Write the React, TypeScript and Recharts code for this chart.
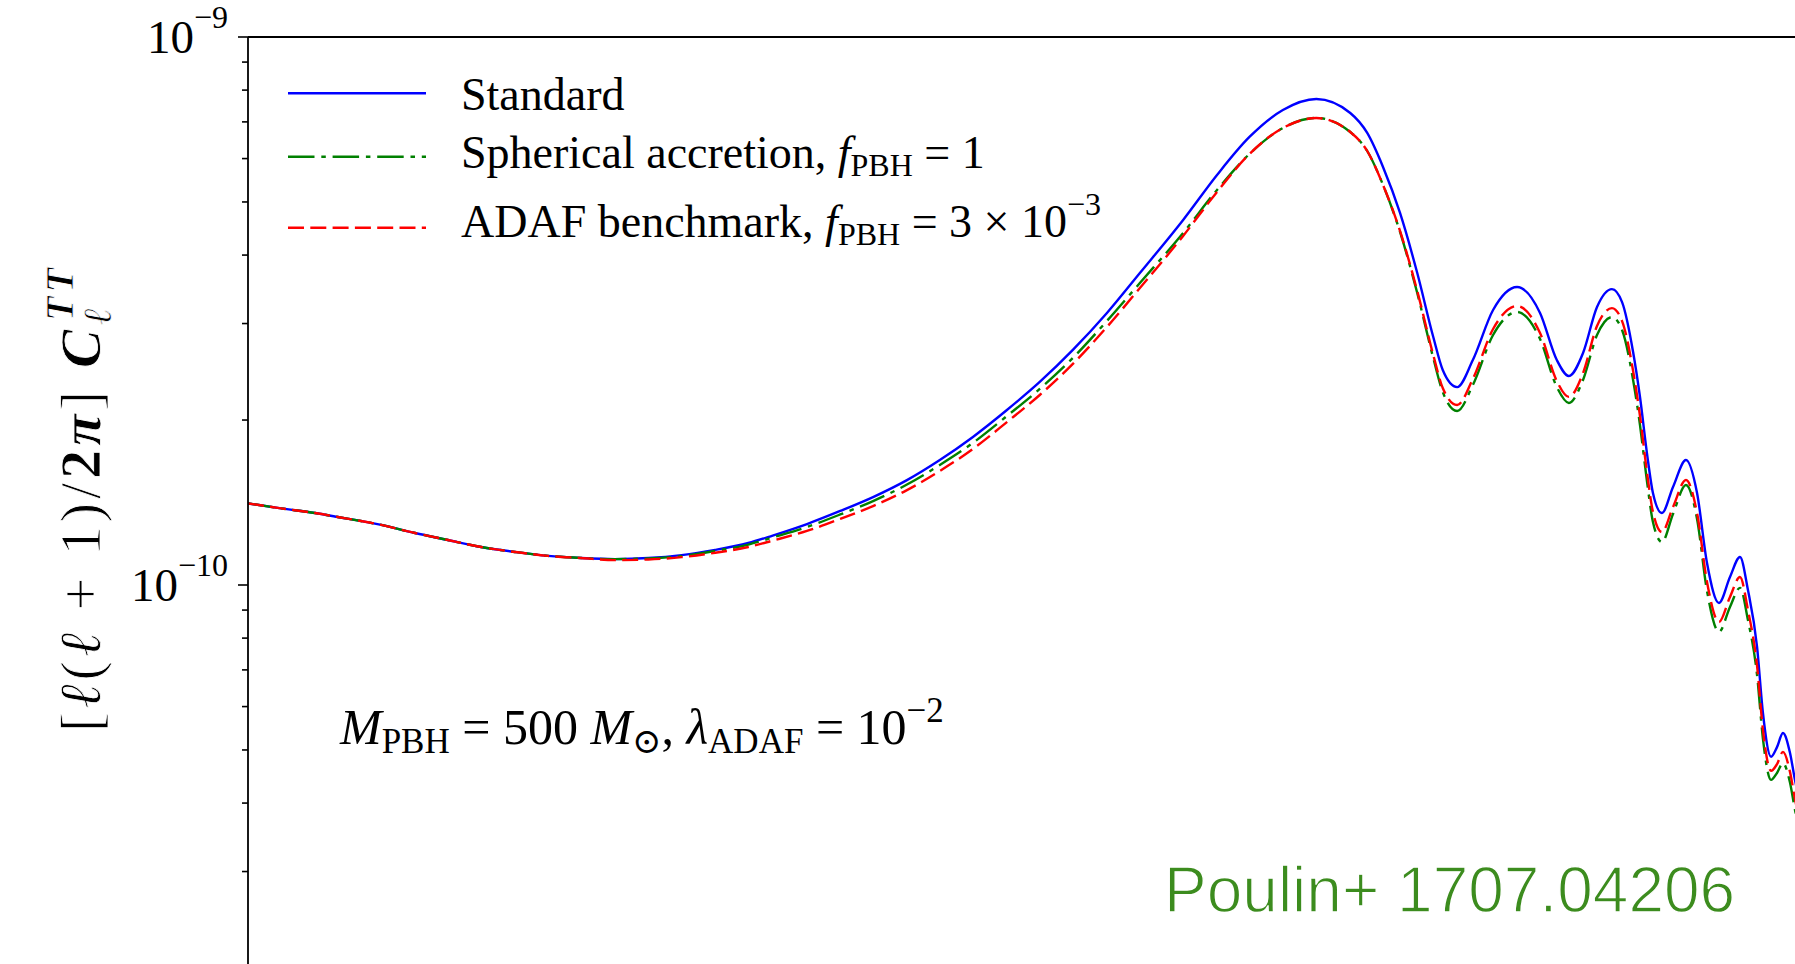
import React from 'react';
import { LineChart, Line, XAxis, YAxis, ReferenceLine, Customized } from 'recharts';

// multipole ell
const ELL = [
  2, 2.31, 2.68, 2.96, 3.58, 4.15, 4.79, 5.54, 6.42, 7.42,
  8.57, 9.94, 11.5, 13.3, 15.4, 17.8, 19.8, 23.0, 26.6, 30.7,
  35.6, 41.1, 47.5, 55.1, 63.6, 73.5, 85.3, 98.5, 119, 138,
  159, 184, 213, 247, 266, 285, 307, 331, 355, 370,
  394, 422, 461, 512, 566, 609, 642, 683, 726, 775,
  810, 850, 876, 903, 927, 964, 1012, 1071, 1124, 1174,
  1237, 1298, 1356, 1404, 1461, 1499, 1553, 1594, 1636, 1687,
  1724, 1801,
];

// [l(l+1)/2pi] C_l^TT, in units of 1e-10
const STANDARD = [
  1.409, 1.380, 1.353, 1.331, 1.287, 1.244, 1.208, 1.173, 1.149, 1.130,
  1.120, 1.115, 1.120, 1.134, 1.159, 1.193, 1.231, 1.292, 1.365, 1.447,
  1.554, 1.691, 1.863, 2.086, 2.347, 2.685, 3.136, 3.709, 4.636, 5.601,
  6.570, 7.358, 7.706, 7.265, 6.681, 5.793, 4.774, 3.709, 2.835, 2.468,
  2.297, 2.574, 3.176, 3.498, 3.136, 2.574, 2.407, 2.651, 3.216, 3.467,
  3.283, 2.662, 2.203, 1.741, 1.472, 1.353, 1.510, 1.691, 1.472, 1.097,
  0.927, 1.034, 1.125, 0.979, 0.771, 0.584, 0.486, 0.506, 0.537, 0.494,
  0.441, 0.373,
];

const SPHERICAL = [
  1.409, 1.380, 1.353, 1.331, 1.287, 1.244, 1.208, 1.173, 1.149, 1.130,
  1.120, 1.115, 1.118, 1.129, 1.154, 1.185, 1.221, 1.276, 1.345, 1.423,
  1.525, 1.656, 1.817, 2.034, 2.279, 2.596, 3.033, 3.557, 4.390, 5.259,
  6.117, 6.822, 7.115, 6.708, 6.194, 5.371, 4.408, 3.410, 2.595, 2.250,
  2.077, 2.317, 2.859, 3.149, 2.811, 2.298, 2.149, 2.367, 2.859, 3.082,
  2.919, 2.367, 1.958, 1.548, 1.303, 1.198, 1.348, 1.522, 1.320, 0.975,
  0.821, 0.912, 0.988, 0.863, 0.685, 0.524, 0.441, 0.454, 0.473, 0.436,
  0.389, 0.329,
];

const ADAF = [
  1.409, 1.380, 1.353, 1.331, 1.287, 1.244, 1.208, 1.173, 1.149, 1.130,
  1.120, 1.110, 1.113, 1.124, 1.145, 1.173, 1.205, 1.255, 1.320, 1.393,
  1.490, 1.615, 1.771, 1.983, 2.222, 2.532, 2.957, 3.482, 4.335, 5.215,
  6.117, 6.822, 7.115, 6.708, 6.194, 5.371, 4.426, 3.439, 2.628, 2.288,
  2.130, 2.377, 2.932, 3.230, 2.883, 2.357, 2.204, 2.437, 2.969, 3.201,
  3.031, 2.458, 2.034, 1.607, 1.359, 1.249, 1.388, 1.555, 1.353, 1.013,
  0.856, 0.951, 1.034, 0.900, 0.712, 0.544, 0.458, 0.471, 0.496, 0.456,
  0.407, 0.344,
];

const UNIT = 1e-10;

const Y_MAJOR_TICKS = [1e-9, 1e-10];
const Y_MAJOR_EXPONENTS = ['\u22129', '\u221210'];
const Y_MINOR_TICKS = [
  9e-10, 8e-10, 7e-10, 6e-10, 5e-10, 4e-10, 3e-10, 2e-10,
  9e-11, 8e-11, 7e-11, 6e-11, 5e-11, 4e-11, 3e-11, 2e-11,
];
const X_DOMAIN = [2, 2500];
const Y_DOMAIN = [1e-11, 1e-9];

const data = ELL.map((l, i) => ({
  l,
  standard: STANDARD[i] * UNIT,
  spherical: SPHERICAL[i] * UNIT,
  adaf: ADAF[i] * UNIT,
}));

const W = 1900;
const H = 1153;
const M = { top: 37, right: 20, bottom: 20, left: 148 };
const YW = 100;
const AXIS_X = M.left + YW;

const BLUE = '#0000ff';
const GREEN = '#008000';
const RED = '#ff0000';
const GREEN_DASH = '26.5 6.8 4.5 6.8';
const RED_DASH = '16 6.3';
const LW = 2.4;
const SERIF = "'Liberation Serif', 'DejaVu Serif', serif";
const SANS = "'Liberation Sans', Arial, sans-serif";

function YTick(props: any) {
  const { y, payload } = props;
  const v = payload.value;
  const idx = Y_MAJOR_TICKS.findIndex((t) => Math.abs(v - t) / t < 1e-6);
  const major = idx >= 0;
  const len = major ? 10 : 6;
  return (
    <g>
      <line x1={AXIS_X - len} x2={AXIS_X} y1={y} y2={y} stroke="#000" strokeWidth={1.6} />
      {major && (
        <text x={AXIS_X - 20} y={y + 16} textAnchor="end" fontFamily={SERIF} fontSize={47} fill="#000">
          10
          <tspan fontSize={32} dy={-25}>{Y_MAJOR_EXPONENTS[idx]}</tspan>
        </text>
      )}
    </g>
  );
}

const SUB = 32;

function Overlay() {
  const legendRows = [
    { y: 93.3, base: 110, color: BLUE, dash: undefined as string | undefined },
    { y: 156.7, base: 168, color: GREEN, dash: GREEN_DASH },
    { y: 227.7, base: 237, color: RED, dash: RED_DASH },
  ];
  return (
    <g style={{ whiteSpace: 'pre' }}>
      {legendRows.map((r, i) => (
        <line key={i} x1={288} x2={426} y1={r.y} y2={r.y} stroke={r.color} strokeWidth={LW} strokeDasharray={r.dash} />
      ))}
      <text x={461} y={legendRows[0].base} fontFamily={SERIF} fontSize={46} fill="#000">Standard</text>
      <text x={461} y={legendRows[1].base} fontFamily={SERIF} fontSize={46} fill="#000">
        {'Spherical accretion, '}
        <tspan fontStyle="italic">f</tspan>
        <tspan fontSize={SUB} dy={8}>PBH</tspan>
        <tspan dy={-8}>{' = 1'}</tspan>
      </text>
      <text x={461} y={legendRows[2].base} fontFamily={SERIF} fontSize={46} fill="#000">
        {'ADAF benchmark, '}
        <tspan fontStyle="italic">f</tspan>
        <tspan fontSize={SUB} dy={8}>PBH</tspan>
        <tspan dy={-8}>{' = 3 \u00d7 10'}</tspan>
        <tspan fontSize={SUB} dy={-22}>{'\u22123'}</tspan>
      </text>

      <text x={340} y={744} fontFamily={SERIF} fontSize={50} fill="#000">
        <tspan fontStyle="italic">M</tspan>
        <tspan fontSize={35} dy={9}>PBH</tspan>
        <tspan dy={-9}>{' = 500 '}</tspan>
        <tspan fontStyle="italic">M</tspan>
        <tspan fontSize={35} dy={9}>{'\u2299'}</tspan>
        <tspan dy={-9}>{', '}</tspan>
        <tspan fontStyle="italic">{'\u03bb'}</tspan>
        <tspan fontSize={35} dy={9}>ADAF</tspan>
        <tspan dy={-9}>{' = 10'}</tspan>
        <tspan fontSize={35} dy={-22}>{'\u22122'}</tspan>
      </text>

      <text
        x={100}
        y={498}
        transform="rotate(-90 100 498)"
        textAnchor="middle"
        fontFamily={SERIF}
        fontSize={58}
        letterSpacing={4}
        fill="#000"
        stroke="#ffffff"
        strokeWidth={0.8}
      >
        {'['}
        <tspan fontStyle="italic">{'\u2113'}</tspan>
        {'('}
        <tspan fontStyle="italic">{'\u2113'}</tspan>
        {' + 1)/'}
        <tspan fontWeight="bold">2</tspan>
        <tspan fontWeight="bold" fontStyle="italic">{'\u03c0'}</tspan>
        {'] '}
        <tspan fontWeight="bold" fontStyle="italic">C</tspan>
        <tspan fontSize={40} fontStyle="italic" dy={11}>{'\u2113'}</tspan>
        <tspan fontSize={40} fontWeight="bold" fontStyle="italic" dx={-16} dy={-38}>TT</tspan>
      </text>

      <text
        x={1164}
        y={912}
        fontFamily={SANS}
        fontSize={64}
        fill="#3c8c1e"
        stroke="#ffffff"
        strokeWidth={1.4}
      >
        Poulin+ 1707.04206
      </text>
    </g>
  );
}

export default function App() {
  return (
    <div
      style={{
        position: 'absolute',
        left: 0,
        top: 0,
        width: 1795,
        height: 964,
        overflow: 'hidden',
        background: '#fff',
      }}
    >
      <LineChart width={W} height={H} data={data} margin={M}>
        <XAxis dataKey="l" type="number" scale="log" domain={X_DOMAIN} allowDataOverflow hide />
        <YAxis
          type="number"
          scale="log"
          domain={Y_DOMAIN}
          allowDataOverflow
          width={YW}
          ticks={[...Y_MAJOR_TICKS, ...Y_MINOR_TICKS]}
          interval={0}
          tick={<YTick />}
          tickLine={false}
          axisLine={{ stroke: '#000', strokeWidth: 1.8 }}
        />
        <ReferenceLine y={1e-9} stroke="#000" strokeWidth={1.8} />
        <Line
          dataKey="standard"
          name="Standard"
          type="monotone"
          stroke={BLUE}
          strokeWidth={LW}
          dot={false}
          isAnimationActive={false}
        />
        <Line
          dataKey="spherical"
          name="Spherical accretion"
          type="monotone"
          stroke={GREEN}
          strokeWidth={LW}
          strokeDasharray={GREEN_DASH}
          dot={false}
          isAnimationActive={false}
        />
        <Line
          dataKey="adaf"
          name="ADAF benchmark"
          type="monotone"
          stroke={RED}
          strokeWidth={LW}
          strokeDasharray={RED_DASH}
          dot={false}
          isAnimationActive={false}
        />
        <Customized component={<Overlay />} />
      </LineChart>
    </div>
  );
}
